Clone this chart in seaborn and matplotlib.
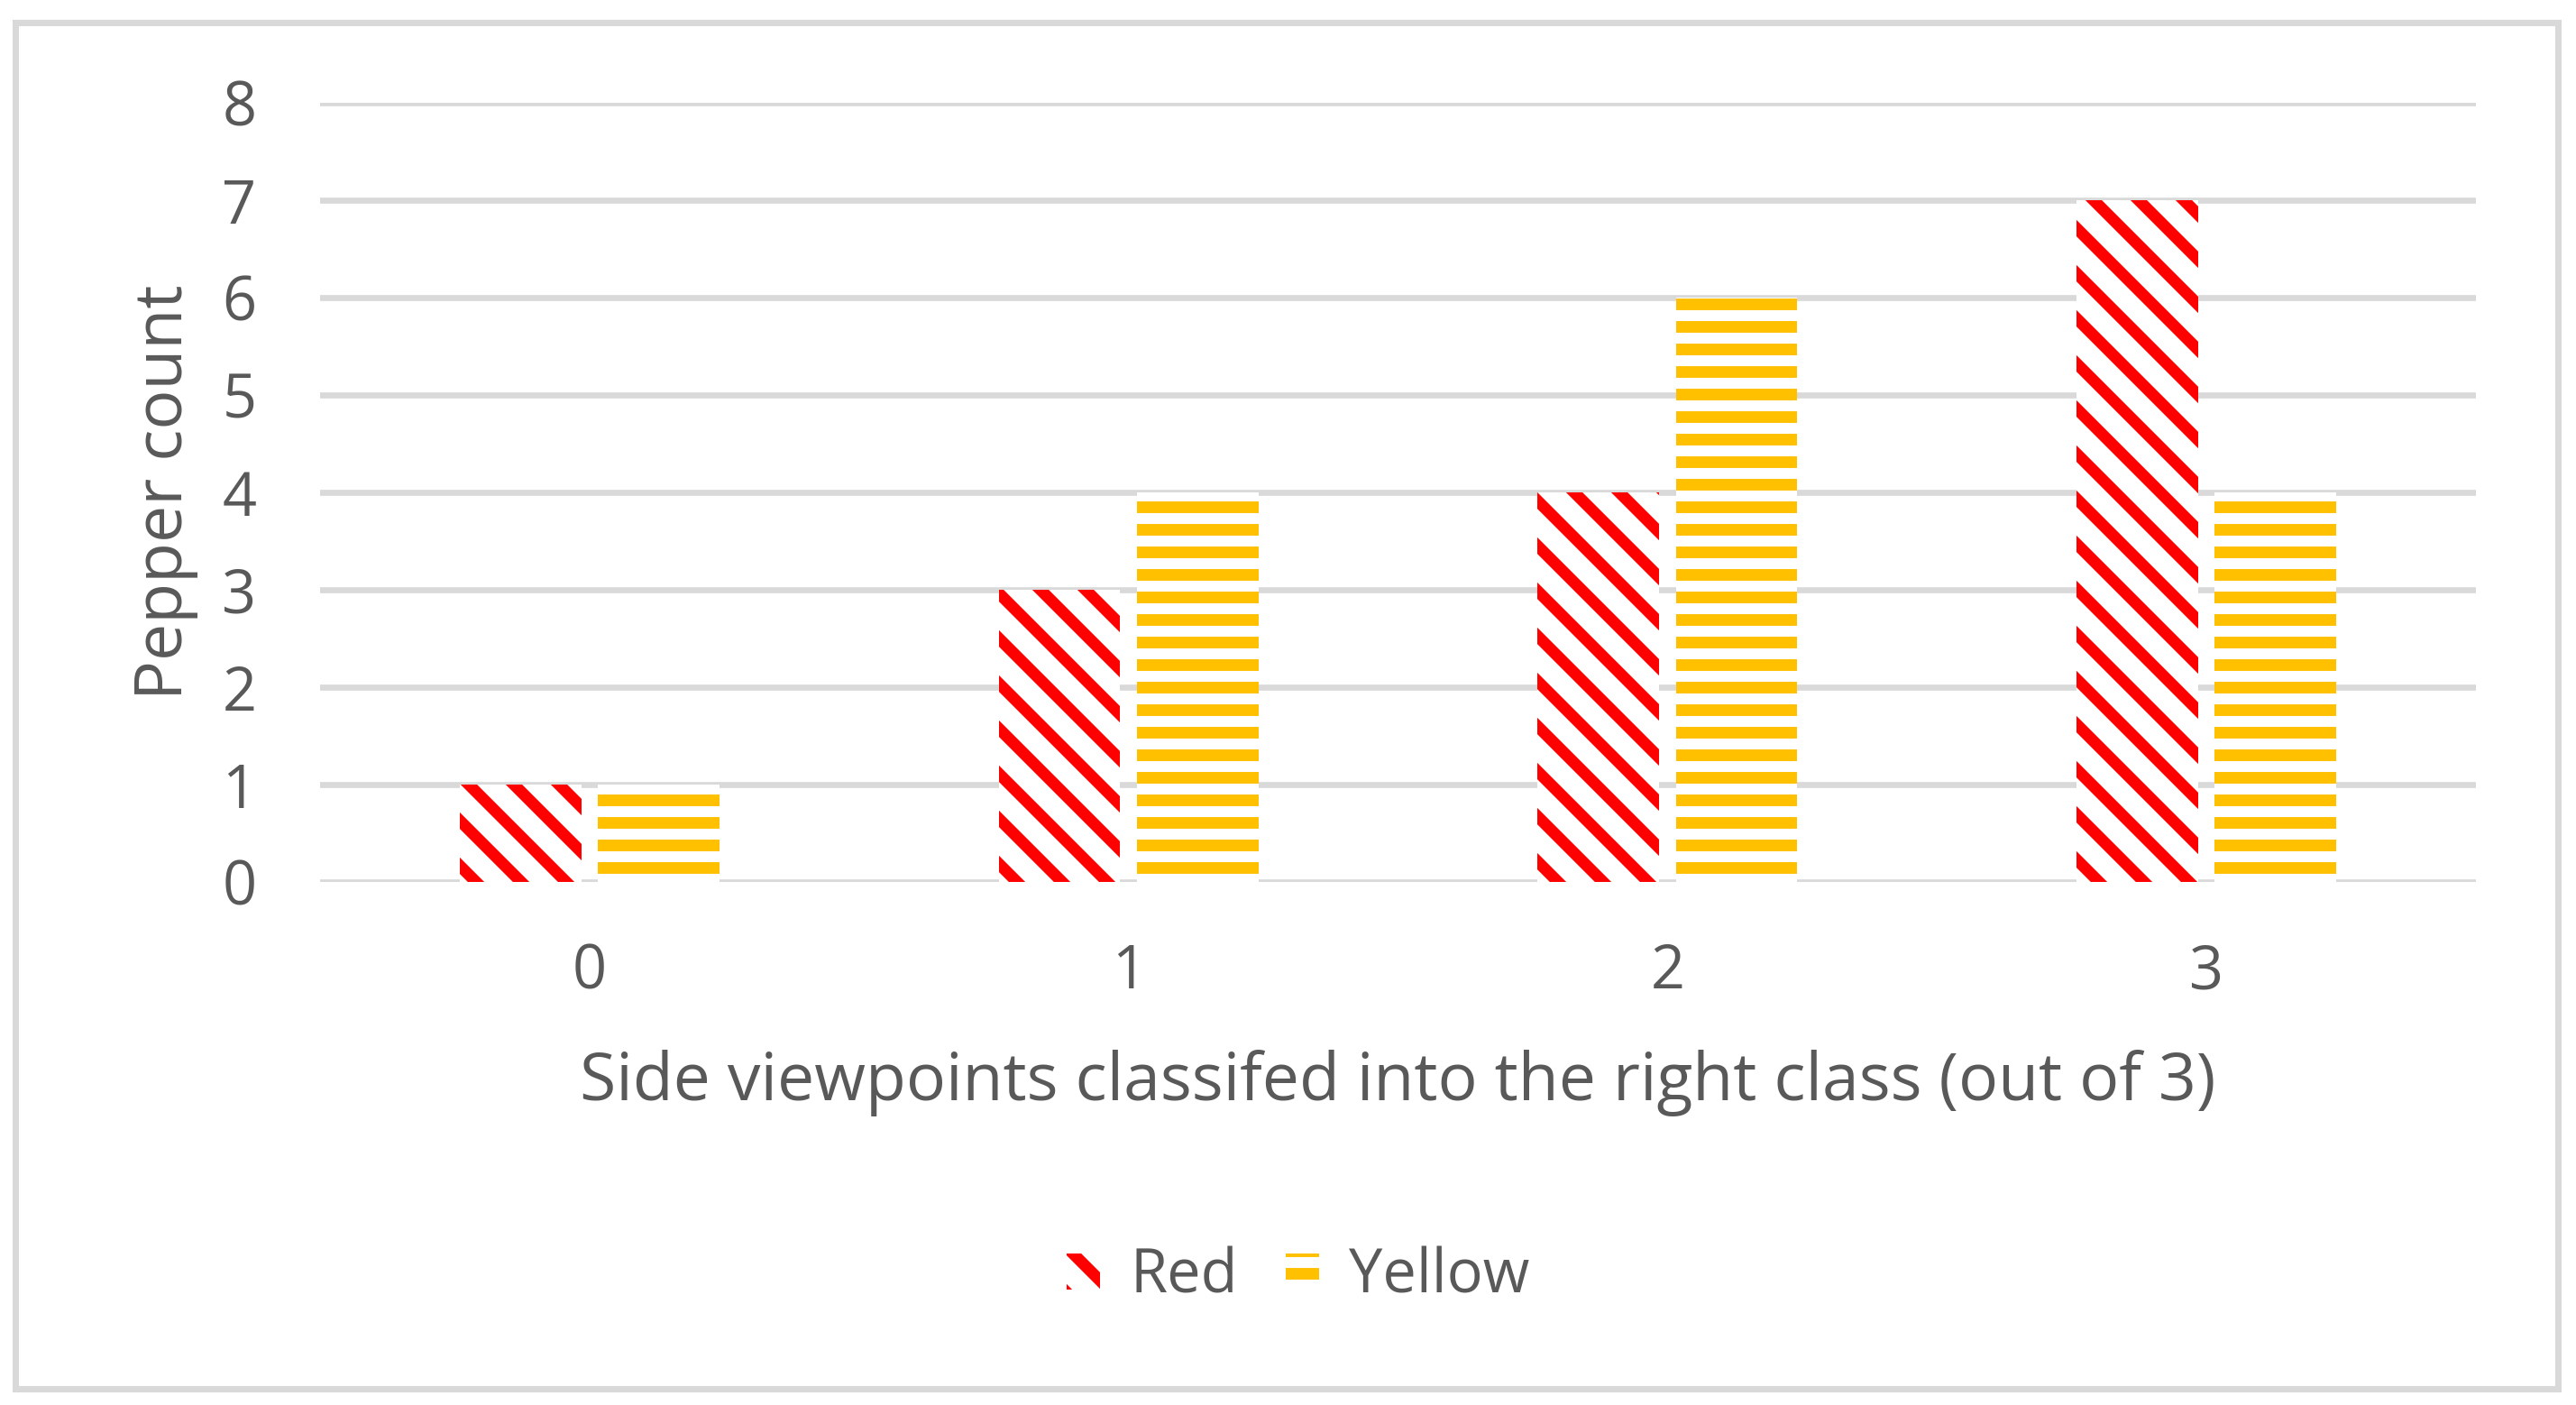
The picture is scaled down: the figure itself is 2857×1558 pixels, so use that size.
import matplotlib
matplotlib.use("Agg")
import matplotlib.pyplot as plt
import matplotlib.patches as mpatches
import seaborn as sns
import pandas as pd

# data
categories = ["0", "1", "2", "3"]
red_counts = [1, 3, 4, 7]
yellow_counts = [1, 4, 6, 4]
series = ["Red", "Yellow"]

TEXT = "#595959"
GRID = "#D9D9D9"
RED = "#FF0000"
YELLOW = "#FFC000"

sns.set_theme(style="white")
plt.rcParams["font.family"] = ["Open Sans", "DejaVu Sans"]
plt.rcParams["hatch.linewidth"] = 3.1

df = pd.DataFrame({
    "viewpoints": categories * 2,
    "count": red_counts + yellow_counts,
    "pepper": [series[0]] * len(categories) + [series[1]] * len(categories),
})

fig = plt.figure(figsize=(2857 / 300, 1558 / 300), dpi=300)
ax = fig.add_axes([0.1243, 0.3723, 0.9611 - 0.1243, 0.9268 - 0.3723])

sns.barplot(data=df, x="viewpoints", y="count", hue="pepper",
            palette=["white", "white"], width=0.513, gap=0.12,
            legend=False, ax=ax, zorder=2)

styles = {"Red": (RED, "\\\\"), "Yellow": (YELLOW, "--")}
for cont, name in zip(ax.containers, series):
    col, hatch = styles[name]
    for bar in cont:
        bar.set_facecolor("white")
        bar.set_edgecolor(col)
        bar.set_hatch(hatch)
        bar.set_linewidth(0)

ax.set_xlim(-0.5, 3.5)
ax.set_ylim(0, 8)
ax.set_yticks(range(0, 9))
ax.set_axisbelow(True)
ax.yaxis.grid(True, color=GRID, linewidth=1.6)
ax.xaxis.grid(False)
sns.despine(ax=ax, left=True, bottom=True)
ax.tick_params(axis="both", length=0, labelsize=16, colors=TEXT)
ax.tick_params(axis="y", pad=17)
ax.tick_params(axis="x", pad=16)

ax.set_xlabel("Side viewpoints classifed into the right class (out of 3)",
              fontsize=17.6, color=TEXT)
ax.set_ylabel("Pepper count", fontsize=17.6, color=TEXT)
ax.xaxis.set_label_coords(0.5, -0.2155)
ax.yaxis.set_label_coords(-0.0565, 0.5)

handles = [mpatches.Patch(facecolor="white", edgecolor=styles[s][0],
                          hatch=styles[s][1], linewidth=0) for s in series]
fig.legend(handles, series, loc="center", bbox_to_anchor=(0.504, 0.091),
           ncol=2, frameon=False, fontsize=16, labelcolor=TEXT,
           handlelength=0.55, handleheight=0.55, handletextpad=0.5,
           columnspacing=0.8)

# light grey outer frame
fig.add_artist(mpatches.Rectangle((17 / 2857, 18 / 1558), (2837 - 17) / 2857,
                                  (1537 - 22) / 1558, transform=fig.transFigure,
                                  fill=False, edgecolor=GRID, linewidth=1.7))

fig.savefig("out.png", dpi=300, facecolor="white")
